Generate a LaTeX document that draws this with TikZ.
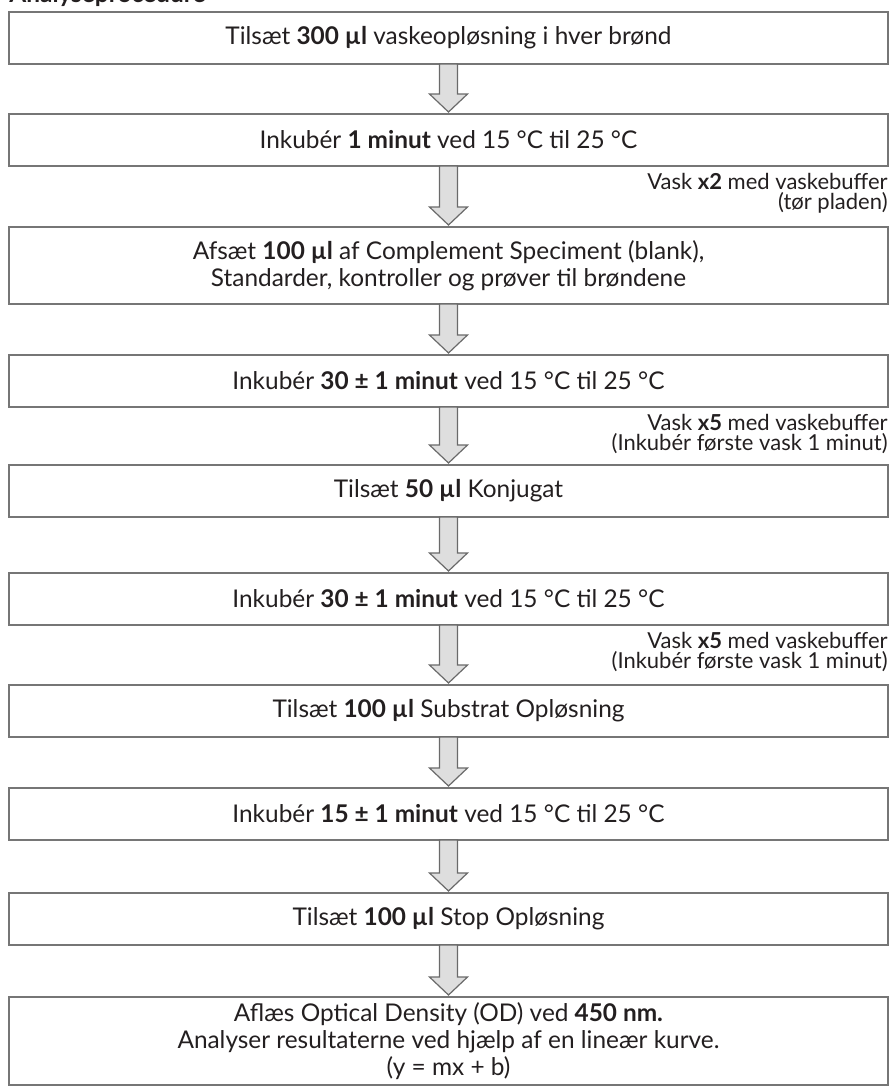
\documentclass[tikz,border=0pt]{standalone}
\usepackage{fontspec}
\setmainfont{Lato}
\usetikzlibrary{positioning}
\definecolor{boxgray}{RGB}{118,118,118}
\definecolor{arrowfill}{RGB}{222,222,222}
\definecolor{textblk}{RGB}{35,31,32}

% block arrow from the bottom of one step to the top of the next
\newcommand{\flowarrow}[2]{%
  \draw[blockarr] ([xshift=-4.5pt]#1.south) -- ([xshift=-4.5pt,yshift=10pt]#2.north)
    -- ([xshift=-9.5pt,yshift=10pt]#2.north) -- ([yshift=1pt]#2.north)
    -- ([xshift=9.5pt,yshift=10pt]#2.north) -- ([xshift=4.5pt,yshift=10pt]#2.north)
    -- ([xshift=4.5pt]#1.south) -- cycle;}

\begin{document}
\begin{tikzpicture}[
      node distance=25pt,
      stepbox/.style={draw=boxgray, line width=0.8pt, fill=white, outer sep=0pt,
                      minimum width=439.5pt, minimum height=26pt, align=center,
                      inner sep=1pt, text=textblk,
                      font=\fontsize{12.2}{13.5}\selectfont},
      note/.style={anchor=north east, align=right, inner sep=0pt, text=textblk,
                   font=\fontsize{11}{9.8}\selectfont},
      blockarr/.style={draw=boxgray!90!black, line width=0.6pt, fill=arrowfill}
    ]
    \useasboundingbox (0,0) rectangle (446pt,-543.5pt);
    \node[anchor=base west, inner sep=0pt, text=textblk,
          font=\bfseries\fontsize{12.2}{13}\selectfont] (title) at (4.5pt,-1pt) {Analyseprocedure};

    \node[stepbox, anchor=north] (s1) at (224.25pt,-6pt)
      {Tilsæt \textbf{300 µl} vaskeopløsning i hver brønd};
    \node[stepbox, below=25pt of s1] (s2)
      {Inkubér \textbf{1 minut} ved 15 °C til 25 °C};
    \node[stepbox, below=30.5pt of s2, minimum height=38.5pt] (s3)
      {Afsæt \textbf{100 µl} af Complement Speciment (blank),\\Standarder, kontroller og prøver til brøndene};
    \node[stepbox, below=25.5pt of s3] (s4)
      {Inkubér \textbf{30 ± 1 minut} ved 15 °C til 25 °C};
    \node[stepbox, below=29pt of s4] (s5)
      {Tilsæt \textbf{50 µl} Konjugat};
    \node[stepbox, below=28pt of s5] (s6)
      {Inkubér \textbf{30 ± 1 minut} ved 15 °C til 25 °C};
    \node[stepbox, below=30pt of s6] (s7)
      {Tilsæt \textbf{100 µl} Substrat Opløsning};
    \node[stepbox, below=25.5pt of s7] (s8)
      {Inkubér \textbf{15 ± 1 minut} ved 15 °C til 25 °C};
    \node[stepbox, below=26.5pt of s8] (s9)
      {Tilsæt \textbf{100 µl} Stop Opløsning};
    \node[stepbox, below=26pt of s9, minimum height=44pt] (s10)
      {Aflæs Optical Density (OD) ved \textbf{450 nm.}\\Analyser resultaterne ved hjælp af en lineær kurve.\\(y = mx + b)};

    \node[note] (n1) at ([yshift=-3.5pt]s2.south east) {Vask \textbf{x2} med vaskebuffer\\(tør pladen)};
    \node[note] (n2) at ([yshift=-3.5pt]s4.south east) {Vask \textbf{x5} med vaskebuffer\\(Inkubér første vask 1 minut)};
    \node[note] (n3) at ([yshift=-3.5pt]s6.south east) {Vask \textbf{x5} med vaskebuffer\\(Inkubér første vask 1 minut)};

    \flowarrow{s1}{s2}
    \flowarrow{s2}{s3}
    \flowarrow{s3}{s4}
    \flowarrow{s4}{s5}
    \flowarrow{s5}{s6}
    \flowarrow{s6}{s7}
    \flowarrow{s7}{s8}
    \flowarrow{s8}{s9}
    \flowarrow{s9}{s10}
  \end{tikzpicture}
\end{document}
